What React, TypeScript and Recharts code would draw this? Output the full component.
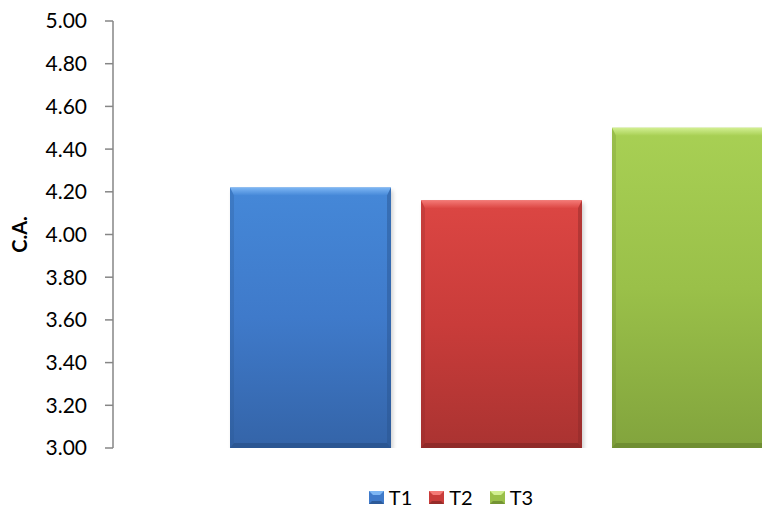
import { Bar, BarChart, Legend, XAxis, YAxis } from "recharts";

const categories = [""];
const seriesNames = ["T1", "T2", "T3"];
const t1Values = [4.22];
const t2Values = [4.16];
const t3Values = [4.5];
const yTicks = [3.0, 3.2, 3.4, 3.6, 3.8, 4.0, 4.2, 4.4, 4.6, 4.8, 5.0];

const data = categories.map((name, i) => ({
  name,
  T1: t1Values[i],
  T2: t2Values[i],
  T3: t3Values[i],
}));

type Palette = {
  id: string;
  light: string;
  top: string;
  mid: string;
  bottom: string;
  edge: string;
};

const PALETTES: Record<string, Palette> = {
  T1: {
    id: "t1",
    light: "#7DB6F4",
    top: "#4588D8",
    mid: "#3F7ACA",
    bottom: "#3464A8",
    edge: "#29528C",
  },
  T2: {
    id: "t2",
    light: "#F47A76",
    top: "#DC4643",
    mid: "#C93C3A",
    bottom: "#AA3331",
    edge: "#8A2827",
  },
  T3: {
    id: "t3",
    light: "#D2EF92",
    top: "#A8D054",
    mid: "#9AC049",
    bottom: "#82A43D",
    edge: "#6A8830",
  },
};

function makeBevelBar(p: Palette) {
  return (props: any) => {
    const { x, y, width, height } = props;
    if (!width || !height) return null;
    const t = 8;
    const s = 4;
    const b = 5;
    const r = x + width;
    const btm = y + height;
    return (
      <g>
        <rect
          x={x + 2}
          y={y + 3}
          width={width}
          height={height}
          fill="#000"
          opacity={0.18}
          filter="url(#barShadow)"
        />
        <rect x={x} y={y} width={width} height={height} fill={`url(#body-${p.id})`} />
        <polygon
          points={`${x},${y} ${r},${y} ${r - s},${y + t} ${x + s},${y + t}`}
          fill={`url(#topbev-${p.id})`}
        />
        <polygon
          points={`${x},${y} ${x + s},${y + t} ${x + s},${btm - b} ${x},${btm}`}
          fill={p.edge}
          opacity={0.25}
        />
        <polygon
          points={`${r},${y} ${r - s},${y + t} ${r - s},${btm - b} ${r},${btm}`}
          fill={p.edge}
          opacity={0.45}
        />
        <polygon
          points={`${x},${btm} ${r},${btm} ${r - s},${btm - b} ${x + s},${btm - b}`}
          fill={p.edge}
          opacity={0.8}
        />
      </g>
    );
  };
}

function LegendContent() {
  return (
    <div
      style={{
        display: "flex",
        justifyContent: "center",
        alignItems: "center",
        height: 22,
        fontSize: 20,
        color: "#000",
      }}
    >
      {seriesNames.map((name, i) => {
        const p = PALETTES[name];
        return (
          <div
            key={name}
            style={{
              display: "flex",
              alignItems: "center",
              marginLeft: i === 0 ? 0 : 17,
            }}
          >
            <svg width={15} height={13} style={{ marginRight: 5 }}>
              <rect x={0} y={0} width={15} height={13} fill={p.mid} />
              <polygon points="0,0 15,0 11,4 4,4" fill={p.light} />
              <polygon points="0,13 15,13 12,10 3,10" fill={p.edge} opacity={0.8} />
            </svg>
            <span style={{ lineHeight: "22px" }}>{name}</span>
          </div>
        );
      })}
    </div>
  );
}

function YLabel(props: any) {
  const vb = props.viewBox || { x: 0, y: 0, width: 0, height: 0 };
  const cx = vb.x + 19;
  const cy = vb.y + vb.height / 2;
  return (
    <text
      x={cx}
      y={cy}
      transform={`rotate(-90, ${cx}, ${cy})`}
      textAnchor="middle"
      dominantBaseline="central"
      fontSize={20}
      fontWeight="bold"
      fill="#000"
    >
      C.A.
    </text>
  );
}

export default function App() {
  return (
    <div
      style={{
        position: "absolute",
        top: 0,
        left: 0,
        width: 762,
        height: 508,
        overflow: "hidden",
        background: "#fff",
        fontFamily: "Lato, 'Open Sans', sans-serif",
      }}
    >
      <BarChart
        width={902}
        height={508}
        data={data}
        margin={{ top: 21, right: 12, left: 0, bottom: 38 }}
        barGap={30}
        barSize={161}
      >
        <defs>
          <filter id="barShadow" x="-10%" y="-10%" width="120%" height="120%">
            <feGaussianBlur stdDeviation="2" />
          </filter>
          {seriesNames.map((name) => {
            const p = PALETTES[name];
            return (
              <g key={name}>
                <linearGradient id={`body-${p.id}`} x1="0" y1="0" x2="0" y2="1">
                  <stop offset="0%" stopColor={p.top} />
                  <stop offset="50%" stopColor={p.mid} />
                  <stop offset="100%" stopColor={p.bottom} />
                </linearGradient>
                <linearGradient id={`topbev-${p.id}`} x1="0" y1="0" x2="0" y2="1">
                  <stop offset="0%" stopColor={p.light} />
                  <stop offset="100%" stopColor={p.top} />
                </linearGradient>
              </g>
            );
          })}
        </defs>
        <XAxis dataKey="name" hide />
        <YAxis
          domain={[3, 5]}
          ticks={yTicks}
          interval={0}
          width={113}
          allowDataOverflow
          tickFormatter={(v: number) => v.toFixed(2)}
          tick={{ fill: "#000", fontSize: 21 }}
          axisLine={{ stroke: "#868686", strokeWidth: 1.5 }}
          tickLine={{ stroke: "#868686", strokeWidth: 1.5 }}
          tickSize={8}
          tickMargin={18}
          label={{ content: YLabel }}
        />
        <Legend
          verticalAlign="bottom"
          content={LegendContent}
          wrapperStyle={{ left: 0, width: 902, bottom: 0 }}
        />
        {seriesNames.map((name) => (
          <Bar
            key={name}
            dataKey={name}
            name={name}
            fill={PALETTES[name].mid}
            shape={makeBevelBar(PALETTES[name])}
            isAnimationActive={false}
          />
        ))}
      </BarChart>
    </div>
  );
}
